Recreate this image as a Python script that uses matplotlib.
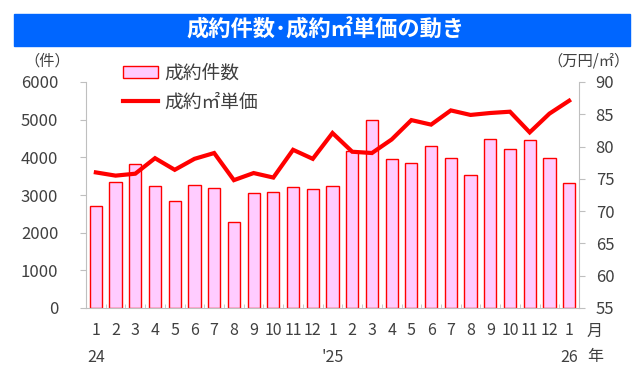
import matplotlib
matplotlib.use("Agg")
import matplotlib.pyplot as plt
import matplotlib.transforms as mtransforms
import numpy as np

plt.rcParams['font.family'] = ['Noto Sans CJK JP', 'DejaVu Sans']

months = ['1', '2', '3', '4', '5', '6', '7', '8', '9', '10', '11', '12',
          '1', '2', '3', '4', '5', '6', '7', '8', '9', '10', '11', '12', '1']
year_labels = {0: '24', 12: "'25", 24: '26'}
counts = [2700, 3350, 3810, 3250, 2840, 3260, 3190, 2290, 3040, 3090, 3220, 3150,
          3230, 4160, 5000, 3950, 3850, 4300, 3970, 3540, 4480, 4220, 4450, 3970, 3330]
price = [76.0, 75.5, 75.8, 78.2, 76.4, 78.1, 79.0, 74.8, 75.9, 75.2, 79.5, 78.1,
         82.1, 79.2, 79.0, 81.1, 84.1, 83.4, 85.6, 84.9, 85.2, 85.4, 82.2, 85.1, 87.1]

W, H = 644, 373
fig = plt.figure(figsize=(W / 100, H / 100), dpi=100)

# title banner
fig.patches.append(plt.Rectangle((14 / W, 1 - 46 / H), (630 - 14) / W, 32 / H,
                                 transform=fig.transFigure, color='#0066FF', zorder=0))
fig.text(326 / W, 1 - 30 / H, '成約件数･成約㎡単価の動き', color='white', fontsize=16,
         fontweight='bold', ha='center', va='center')

ax = fig.add_axes([86 / W, 1 - 308 / H, (579 - 86) / W, (308 - 82) / H])
x = np.arange(len(counts))
ax.bar(x, counts, width=0.62, color='#FFCCFF', edgecolor='#FF0000', linewidth=1.0,
       label='成約件数', zorder=2)
ax.set_ylim(0, 6000)
ax.set_xlim(-0.5, len(counts) - 0.5)
ax.set_yticks(range(0, 6001, 1000))
ax2 = ax.twinx()
line, = ax2.plot(x, price, color='#FF0000', lw=3.0, label='成約㎡単価', zorder=3,
                 solid_joinstyle='miter')
ax2.set_ylim(55, 90)
ax2.set_yticks(range(55, 91, 5))

gray = '#BFBFBF'
txt = '#404040'
for a in (ax, ax2):
    for s in a.spines.values():
        s.set_visible(False)
ax.spines['left'].set_visible(True)
ax.spines['left'].set_color(gray)
ax.spines['bottom'].set_visible(True)
ax.spines['bottom'].set_color(gray)
ax2.spines['right'].set_visible(True)
ax2.spines['right'].set_color(gray)

ax.tick_params(axis='y', colors=gray, labelcolor=txt, labelsize=12, length=4, pad=16)
ax2.tick_params(axis='y', colors=gray, labelcolor=txt, labelsize=12, length=4, pad=8)
ax.set_xticks(x)
ax.set_xticklabels(months)
ax.set_xticks(np.arange(-0.5, len(counts), 1), minor=True)
ax.tick_params(axis='x', which='major', length=0, labelsize=11.5, labelcolor=txt, pad=10)
ax.tick_params(axis='x', which='minor', direction='in', length=3, colors=gray)

trans = mtransforms.blended_transform_factory(ax.transData, fig.transFigure)
for i, lab in year_labels.items():
    ax.text(i, 1 - 357 / H, lab, transform=trans, ha='center', va='center',
            fontsize=11.5, color=txt)
ax.text(24.9, 1 - 331 / H, '月', transform=trans, ha='left', va='center', fontsize=11.5, color=txt)
ax.text(24.9, 1 - 357 / H, '年', transform=trans, ha='left', va='center', fontsize=11.5, color=txt)

fig.text(47 / W, 1 - 61 / H, '（件）', ha='center', va='center', fontsize=11, color=txt)
fig.text(589 / W, 1 - 61 / H, '（万円/㎡）', ha='center', va='center', fontsize=11, color=txt)

handles = [ax.containers[0], line]
leg = ax.legend(handles, ['成約件数', '成約㎡単価'], loc='upper left',
                bbox_to_anchor=(0.04, 1.16), frameon=False, fontsize=13.5,
                handlelength=1.9, handleheight=0.6, handletextpad=0.3,
                labelspacing=0.42, labelcolor=txt)
leg.set_zorder(5)

fig.savefig('out.png', dpi=100)
